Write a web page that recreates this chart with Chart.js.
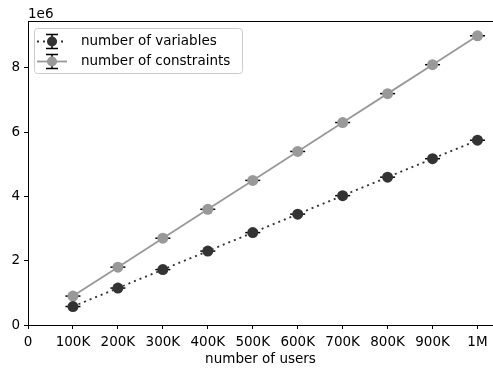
<!DOCTYPE html>
<html>
<head>
<meta charset="utf-8">
<script src="https://cdn.jsdelivr.net/npm/chart.js@4/dist/chart.umd.min.js"></script>
<style>
  html, body { margin: 0; padding: 0; background: #fff; }
  #wrap { width: 493px; height: 369px; }
</style>
</head>
<body>
<div id="wrap"><canvas id="usersChart" width="493" height="369"></canvas></div>
<script>
const users = [100000, 200000, 300000, 400000, 500000, 600000, 700000, 800000, 900000, 1000000];
const variables = [575000, 1150000, 1725000, 2300000, 2875000, 3450000, 4025000, 4600000, 5175000, 5750000];
const constraints = [900000, 1800000, 2700000, 3600000, 4500000, 5400000, 6300000, 7200000, 8100000, 9000000];
const xTicks = [0, 100000, 200000, 300000, 400000, 500000, 600000, 700000, 800000, 900000, 1000000];
const xTickLabels = ["0", "100K", "200K", "300K", "400K", "500K", "600K", "700K", "800K", "900K", "1M"];
const yTicks = [0, 2000000, 4000000, 6000000, 8000000];
const yTickLabels = ["0", "2", "4", "6", "8"];

const FONT = "'DejaVu Sans', sans-serif";
const FS = 13.5;

const series = [
  { label: "number of variables", data: variables, color: "#333333", dash: [2, 4] },
  { label: "number of constraints", data: constraints, color: "#999999", dash: [] }
];

// caps of the (tiny) error bars, frame, offset text and legend
const extras = {
  id: "extras",
  beforeDatasetsDraw(chart) {
    const ctx = chart.ctx;
    ctx.save();
    ctx.strokeStyle = "#000";
    ctx.lineWidth = 1.5;
    chart.data.datasets.forEach((ds, i) => {
      chart.getDatasetMeta(i).data.forEach(pt => {
        ctx.beginPath();
        ctx.moveTo(pt.x - 7.5, pt.y);
        ctx.lineTo(pt.x + 7.5, pt.y);
        ctx.stroke();
      });
    });
    ctx.restore();
  },
  afterDraw(chart) {
    const ctx = chart.ctx;
    const a = chart.chartArea;
    ctx.save();
    ctx.strokeStyle = "#000";
    ctx.lineWidth = 1;
    ctx.strokeRect(a.left + 0.5, a.top + 0.5, a.right - a.left, a.bottom - a.top);

    ctx.fillStyle = "#000";
    ctx.font = FS + "px " + FONT;
    ctx.textBaseline = "alphabetic";
    ctx.fillText("1e6", 28, 18);

    // legend box
    const bx = 34, by = 28, bw = 208, bh = 45;
    ctx.fillStyle = "rgba(255,255,255,0.8)";
    ctx.strokeStyle = "#cccccc";
    ctx.beginPath();
    ctx.roundRect(bx + 0.5, by + 0.5, bw, bh, 3);
    ctx.fill();
    ctx.stroke();

    series.forEach((s, i) => {
      const cy = 41.5 + i * 20;
      const cx = 52;
      ctx.strokeStyle = s.color;
      ctx.lineWidth = 1.8;
      ctx.setLineDash(s.dash);
      ctx.beginPath();
      ctx.moveTo(37, cy);
      ctx.lineTo(67, cy);
      ctx.stroke();
      ctx.setLineDash([]);
      ctx.strokeStyle = "#000";
      ctx.lineWidth = 1.5;
      ctx.beginPath();
      ctx.moveTo(cx, cy - 7);
      ctx.lineTo(cx, cy + 7);
      ctx.moveTo(cx - 6, cy - 7);
      ctx.lineTo(cx + 6, cy - 7);
      ctx.moveTo(cx - 6, cy + 7);
      ctx.lineTo(cx + 6, cy + 7);
      ctx.stroke();
      ctx.fillStyle = s.color;
      ctx.beginPath();
      ctx.arc(cx, cy, 5, 0, Math.PI * 2);
      ctx.fill();
      ctx.fillStyle = "#000";
      ctx.font = FS + "px " + FONT;
      ctx.textBaseline = "middle";
      ctx.fillText(s.label, 81, cy);
    });
    ctx.restore();
  }
};

new Chart(document.getElementById("usersChart").getContext("2d"), {
  type: "line",
  data: {
    datasets: series.map(s => ({
      label: s.label,
      data: users.map((u, k) => ({ x: u, y: s.data[k] })),
      borderColor: s.color,
      backgroundColor: s.color,
      borderWidth: 1.8,
      borderDash: s.dash,
      pointRadius: 5.5,
      pointBorderWidth: 0,
      pointHoverRadius: 5.5,
      tension: 0,
      fill: false
    }))
  },
  plugins: [extras],
  options: {
    responsive: false,
    animation: false,
    events: [],
    layout: { autoPadding: false, padding: { top: 21, right: 0, left: 0, bottom: 0 } },
    plugins: { legend: { display: false }, tooltip: { enabled: false } },
    scales: {
      x: {
        type: "linear",
        min: 0,
        max: 1034500,
        afterBuildTicks: axis => { axis.ticks = xTicks.map(v => ({ value: v })); },
        afterFit: axis => { axis.height = 44; axis.paddingLeft = 0; axis.paddingRight = 0; },
        ticks: {
          autoSkip: false,
          maxRotation: 0,
          color: "#000",
          padding: 5,
          font: { family: FONT, size: FS },
          callback: (v) => xTickLabels[xTicks.indexOf(v)]
        },
        grid: { drawOnChartArea: false, drawTicks: true, tickLength: 4, color: "#000" },
        border: { color: "#000", width: 1 },
        title: { display: true, text: "number of users", color: "#000", padding: { top: 0, bottom: 1 }, font: { family: FONT, size: FS } }
      },
      y: {
        type: "linear",
        min: 0,
        max: 9460000,
        afterBuildTicks: axis => { axis.ticks = yTicks.map(v => ({ value: v })); },
        afterFit: axis => { axis.width = 28; axis.paddingTop = 0; axis.paddingBottom = 0; },
        ticks: {
          color: "#000",
          padding: 4,
          font: { family: FONT, size: FS },
          callback: (v) => yTickLabels[yTicks.indexOf(v)]
        },
        grid: { drawOnChartArea: false, drawTicks: true, tickLength: 4, color: "#000" },
        border: { color: "#000", width: 1 }
      }
    }
  }
});
</script>
</body>
</html>
